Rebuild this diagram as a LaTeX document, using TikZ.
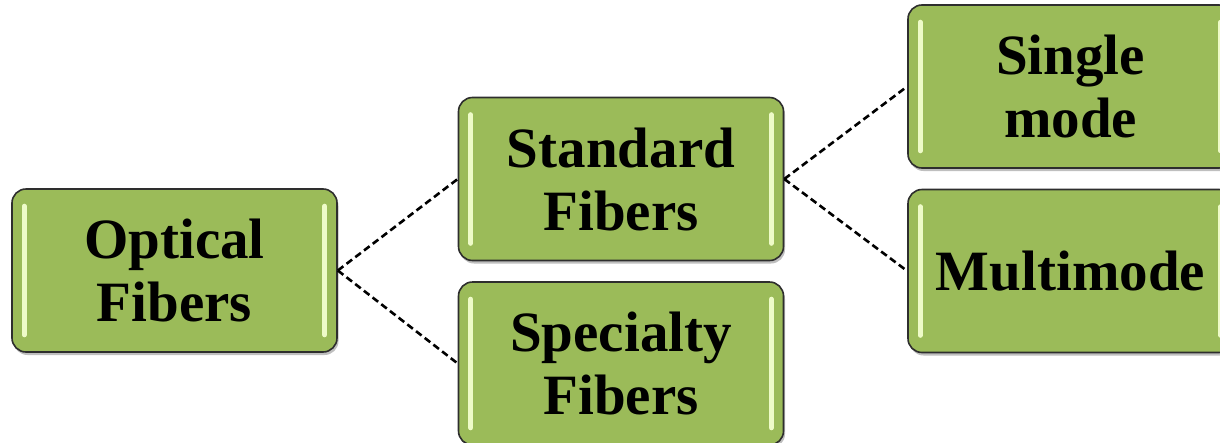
\documentclass[tikz,border=0pt]{standalone}
\usepackage{fontspec}
\setmainfont{Liberation Serif}
\usetikzlibrary{calc,shadows}
\definecolor{boxgreen}{HTML}{9BBB59}
\definecolor{boxedge}{HTML}{2E2E2E}
\definecolor{glint}{HTML}{EEFBC8}
\tikzset{
  fiberbox/.style={draw=boxedge, line width=1.6pt, fill=boxgreen, rounded corners=14pt,
    minimum width=325pt, minimum height=163pt, align=center,
    font=\fontsize{57}{63}\selectfont\bfseries,
    drop shadow={shadow xshift=1.5pt, shadow yshift=-3pt, opacity=0.25, fill=black}},
  link/.style={draw=black, line width=2.6pt, dash pattern=on 7pt off 4pt},
  glintbar/.style={draw=glint, line width=5pt, line cap=round}
}
\newcommand{\glints}[1]{%
  \draw[glintbar] ($(#1.north west)+(13,-18)$) -- ($(#1.south west)+(13,18)$);
  \draw[glintbar] ($(#1.north east)+(-13,-18)$) -- ($(#1.south east)+(-13,18)$);
}
\begin{document}
\begin{tikzpicture}[x=1pt,y=1pt]
\useasboundingbox (0,0) rectangle (1220,-442);
\clip (0,0) rectangle (1220,-442);
\fill[white] (0,0) rectangle (1220,-442);
\node[fiberbox] (opt) at (174.5,-270.5) {Optical\\Fibers};
\node[fiberbox] (std) at (621,-179) {Standard\\Fibers};
\node[fiberbox] (spe) at (621,-363.5) {Specialty\\Fibers};
\node[fiberbox] (sgl) at (1070.5,-86.5) {Single\\mode};
\node[fiberbox] (mul) at (1070.5,-271) {Multimode};
\glints{opt}
\glints{std}
\glints{spe}
\glints{sgl}
\glints{mul}
\draw[link] (opt.east) -- (std.west);
\draw[link] (opt.east) -- (spe.west);
\draw[link] (std.east) -- (sgl.west);
\draw[link] (std.east) -- (mul.west);
\end{tikzpicture}
\end{document}
